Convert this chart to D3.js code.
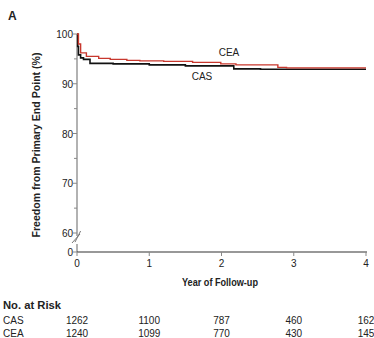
<!DOCTYPE html>
<html>
<head>
<meta charset="utf-8">
<script src="https://cdn.jsdelivr.net/npm/d3@7"></script>
<style>
  body { margin: 0; background: #fff; }
  #chart { width: 374px; height: 338px; }
  text { font-family: "Liberation Sans", Arial, sans-serif; fill: #222; }
</style>
</head>
<body>
<div id="chart"></div>
<script>
// Kaplan-Meier estimates
var casYears = [0, 0.01, 0.02, 0.05, 0.09, 0.18, 0.5, 1.0, 1.5, 2.17, 2.54, 4.0];
var casValues = [100, 97.5, 95.8, 95.2, 94.9, 94.1, 94.0, 93.8, 93.6, 93.0, 92.9, 92.9];
var ceaYears = [0, 0.02, 0.05, 0.13, 0.3, 0.46, 0.69, 0.87, 1.2, 1.6, 1.99, 2.2, 2.78, 2.9, 4.0];
var ceaValues = [100, 98.0, 96.2, 95.5, 95.1, 94.9, 94.7, 94.6, 94.5, 94.3, 94.0, 93.8, 93.3, 93.2, 93.2];

var xTicks = [0, 1, 2, 3, 4];
var yTicks = [60, 70, 80, 90, 100];
var yMinor = [65, 75, 85, 95];

var riskGroups = ["CAS", "CEA"];
var casAtRisk = [1262, 1100, 787, 460, 162];
var ceaAtRisk = [1240, 1099, 770, 430, 145];

function init() {
    var container = d3.select("#chart");
    var w = 374, h = 338;

    var svg = container.append("svg")
                .attr("width", w)
                .attr("height", h);

    var x = d3.scaleLinear().domain([0, 4]).range([77, 366]);
    var y = d3.scaleLinear().domain([60, 100]).range([233, 34]);
    var y0 = 252; // the zero line below the axis break

    // panel letter
    svg.append("text").attr("x", 8).attr("y", 20)
        .style("font-weight", "bold").style("font-size", "12px").text("A");

    // y axis (gray) with a break
    svg.append("line").attr("x1", x(0)).attr("x2", x(0))
        .attr("y1", y(100)).attr("y2", 236)
        .attr("stroke", "#999").attr("stroke-width", 1.5);
    svg.append("line").attr("x1", x(0)).attr("x2", x(0))
        .attr("y1", 244).attr("y2", y0)
        .attr("stroke", "#999").attr("stroke-width", 1.5);
    [0, 3].forEach(function(d) {
        svg.append("line")
            .attr("x1", 72 + d).attr("y1", 243 - d * 0.3)
            .attr("x2", 80 + d * 0.2).attr("y2", 234 - d)
            .attr("stroke", "#777").attr("stroke-width", 1);
    });

    svg.selectAll(".ymaj").data(yTicks).enter().append("line")
        .attr("x1", x(0) - 4).attr("x2", x(0))
        .attr("y1", function(d) { return y(d); })
        .attr("y2", function(d) { return y(d); })
        .attr("stroke", "#888");
    svg.selectAll(".ymin").data(yMinor).enter().append("line")
        .attr("x1", x(0) - 3).attr("x2", x(0))
        .attr("y1", function(d) { return y(d); })
        .attr("y2", function(d) { return y(d); })
        .attr("stroke", "#888");
    svg.append("line").attr("x1", x(0) - 4).attr("x2", x(0))
        .attr("y1", y0).attr("y2", y0).attr("stroke", "#888");

    svg.selectAll(".ylab").data(yTicks).enter().append("text")
        .attr("x", x(0) - 4).attr("y", function(d) { return y(d) + 4; })
        .attr("text-anchor", "end").style("font-size", "10px")
        .text(function(d) { return d; });
    svg.append("text").attr("x", x(0) - 4).attr("y", y0 + 4)
        .attr("text-anchor", "end").style("font-size", "10px").text("0");

    svg.append("text")
        .attr("transform", "translate(40," + 145 + ") rotate(-90)")
        .attr("text-anchor", "middle")
        .attr("textLength", 185).attr("lengthAdjust", "spacingAndGlyphs")
        .style("font-weight", "bold").style("font-size", "11px")
        .text("Freedom from Primary End Point (%)");

    // x axis
    svg.append("line").attr("x1", x(0)).attr("x2", x(4) + 1)
        .attr("y1", y0).attr("y2", y0)
        .attr("stroke", "#333").attr("stroke-width", 1.2);
    svg.selectAll(".xt").data(xTicks).enter().append("line")
        .attr("x1", function(d) { return x(d); })
        .attr("x2", function(d) { return x(d); })
        .attr("y1", y0).attr("y2", y0 + 4)
        .attr("stroke", "#888");
    svg.selectAll(".xlab").data(xTicks).enter().append("text")
        .attr("x", function(d) { return x(d); }).attr("y", 267)
        .attr("text-anchor", "middle").style("font-size", "10px")
        .text(function(d) { return d; });
    svg.append("text").attr("x", 220).attr("y", 286)
        .attr("text-anchor", "middle")
        .attr("textLength", 76).attr("lengthAdjust", "spacingAndGlyphs")
        .style("font-weight", "bold").style("font-size", "11px")
        .text("Year of Follow-up");

    // survival curves
    var line = d3.line()
        .x(function(d) { return x(d[0]); })
        .y(function(d) { return y(d[1]); })
        .curve(d3.curveStepAfter);

    svg.append("path")
        .attr("d", line(d3.zip(casYears, casValues)))
        .attr("fill", "none").attr("stroke", "#111").attr("stroke-width", 1.6);
    svg.append("path")
        .attr("d", line(d3.zip(ceaYears, ceaValues)))
        .attr("fill", "none").attr("stroke", "#c8372d").attr("stroke-width", 1.4);

    svg.append("text").attr("x", 229).attr("y", 56)
        .attr("text-anchor", "middle").style("font-size", "10px").text("CEA");
    svg.append("text").attr("x", 202).attr("y", 80)
        .attr("text-anchor", "middle").style("font-size", "10px").text("CAS");

    // number at risk table
    svg.append("text").attr("x", 3).attr("y", 309)
        .attr("textLength", 58).attr("lengthAdjust", "spacingAndGlyphs")
        .style("font-weight", "bold").style("font-size", "11px")
        .text("No. at Risk");
    var rows = [casAtRisk, ceaAtRisk];
    rows.forEach(function(r, i) {
        var ry = 324 + i * 12.5;
        svg.append("text").attr("x", 3).attr("y", ry)
            .style("font-size", "10px").text(riskGroups[i]);
        svg.selectAll(".risk" + i).data(r).enter().append("text")
            .attr("x", function(d, j) { return x(xTicks[j]); })
            .attr("y", ry)
            .attr("text-anchor", "middle").style("font-size", "10px")
            .text(function(d) { return d; });
    });
}

window.onload = init;
</script>
</body>
</html>
